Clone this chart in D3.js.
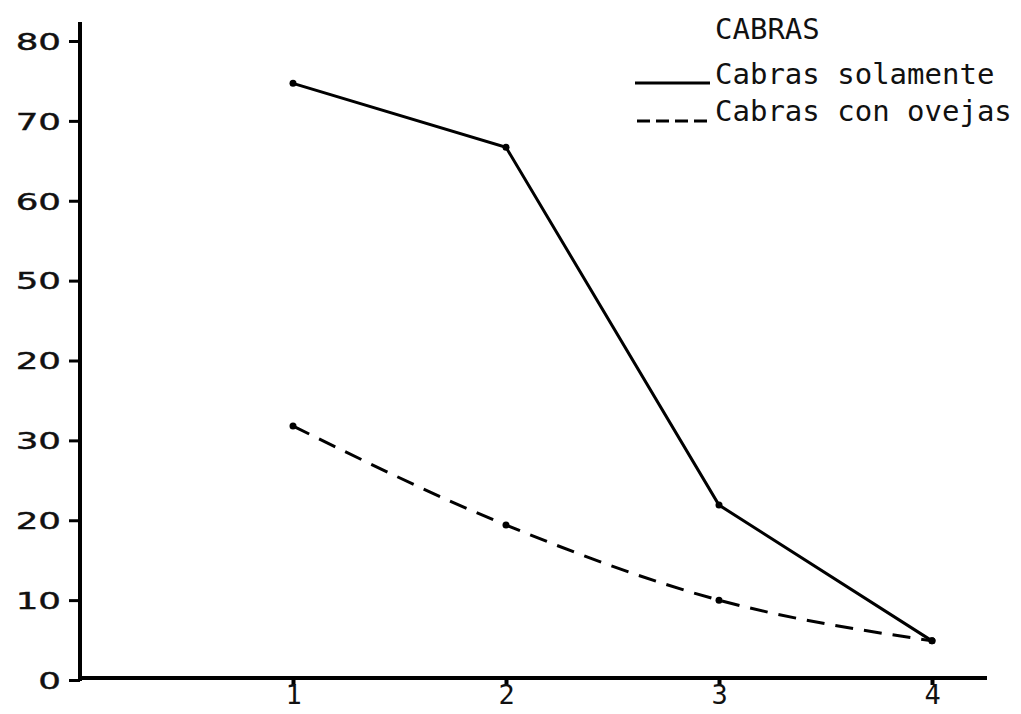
<!DOCTYPE html>
<html>
<head>
<meta charset="utf-8">
<script src="https://cdn.jsdelivr.net/npm/d3@7"></script>
<style>
  body { margin: 0; background: #fff; }
  svg { display: block; }
</style>
</head>
<body>
<svg id="chart" width="1021" height="714"></svg>
<script>
// data
var xCats = [1, 2, 3, 4];
var soloCabras = [74.7, 66.7, 21.9, 4.9];
var conOvejas = [31.8, 19.4, 10.0, 4.9];
var yTicks = [0, 10, 20, 30, 40, 50, 60, 70, 80];
// the printed labels (the 40 is printed as "20" in the original)
var yTickLabels = ['0', '10', '20', '30', '20', '50', '60', '70', '80'];
var xTickLabels = ['1', '2', '3', '4'];
var legendTitle = 'CABRAS';
var seriesNames = ['Cabras solamente', 'Cabras con ovejas'];

var svg = d3.select('#chart');

var x = d3.scaleLinear().domain([0, 4]).range([80, 932]);
var y = d3.scaleLinear().domain([0, 80]).range([680, 41]);

var monoFont = "'DejaVu Sans Mono', 'Liberation Mono', monospace";

// y axis
var yAxis = svg.append('g')
    .attr('transform', 'translate(80,0)')
    .call(d3.axisLeft(y)
        .tickValues(yTicks)
        .tickSize(11)
        .tickPadding(6)
        .tickFormat((d, i) => yTickLabels[i]));
yAxis.select('.domain').remove();
yAxis.selectAll('.tick line').attr('stroke', '#000').attr('stroke-width', 3);
yAxis.selectAll('.tick text')
    .attr('font-family', "'DejaVu Sans', sans-serif")
    .attr('font-size', 23)
    .attr('fill', '#111')
    .attr('stroke', '#111')
    .attr('stroke-width', 0.4)
    .attr('x', null)
    .attr('dy', '0.36em')
    .attr('text-anchor', 'end')
    .attr('transform', 'translate(-19,0) scale(1.55,1)');

svg.append('line')
    .attr('x1', 80).attr('x2', 80)
    .attr('y1', 22).attr('y2', 681)
    .attr('stroke', '#000').attr('stroke-width', 4);

// x axis
var xAxis = svg.append('g')
    .attr('transform', 'translate(0,678)')
    .call(d3.axisBottom(x)
        .tickValues(xCats)
        .tickSize(7)
        .tickPadding(0)
        .tickFormat((d, i) => xTickLabels[i]));
xAxis.select('.domain').remove();
xAxis.selectAll('.tick line').attr('stroke', '#000').attr('stroke-width', 4);
xAxis.selectAll('.tick text')
    .attr('font-family', monoFont)
    .attr('font-size', 27)
    .attr('dy', '0.7em')
    .attr('fill', '#111');

svg.append('line')
    .attr('x1', 78).attr('x2', 987)
    .attr('y1', 678).attr('y2', 678)
    .attr('stroke', '#000').attr('stroke-width', 4);

// series lines
var solidLine = d3.line()
    .x((d, i) => x(xCats[i]))
    .y(d => y(d));
var dashLine = d3.line()
    .x((d, i) => x(xCats[i]))
    .y(d => y(d))
    .curve(d3.curveMonotoneX);

svg.append('path')
    .datum(soloCabras)
    .attr('d', solidLine)
    .attr('fill', 'none')
    .attr('stroke', '#000')
    .attr('stroke-width', 3);

svg.append('path')
    .datum(conOvejas)
    .attr('d', dashLine)
    .attr('fill', 'none')
    .attr('stroke', '#000')
    .attr('stroke-width', 3)
    .attr('stroke-dasharray', '18,11');

// point dots
[soloCabras, conOvejas].forEach(series => {
    svg.append('g').selectAll('circle')
        .data(series)
        .join('circle')
        .attr('cx', (d, i) => x(xCats[i]))
        .attr('cy', d => y(d))
        .attr('r', 3.5)
        .attr('fill', '#000');
});

// legend
var legend = svg.append('g').attr('font-family', monoFont).attr('font-size', 29).attr('fill', '#111');
legend.append('text').attr('x', 715).attr('y', 39).text(legendTitle);
legend.append('text').attr('x', 715).attr('y', 84).text(seriesNames[0]);
legend.append('text').attr('x', 715).attr('y', 121).text(seriesNames[1]);

svg.append('line')
    .attr('x1', 635).attr('x2', 710)
    .attr('y1', 83).attr('y2', 83)
    .attr('stroke', '#000').attr('stroke-width', 3);
svg.append('line')
    .attr('x1', 637).attr('x2', 710)
    .attr('y1', 121).attr('y2', 121)
    .attr('stroke', '#000').attr('stroke-width', 3)
    .attr('stroke-dasharray', '13,6');
</script>
</body>
</html>
